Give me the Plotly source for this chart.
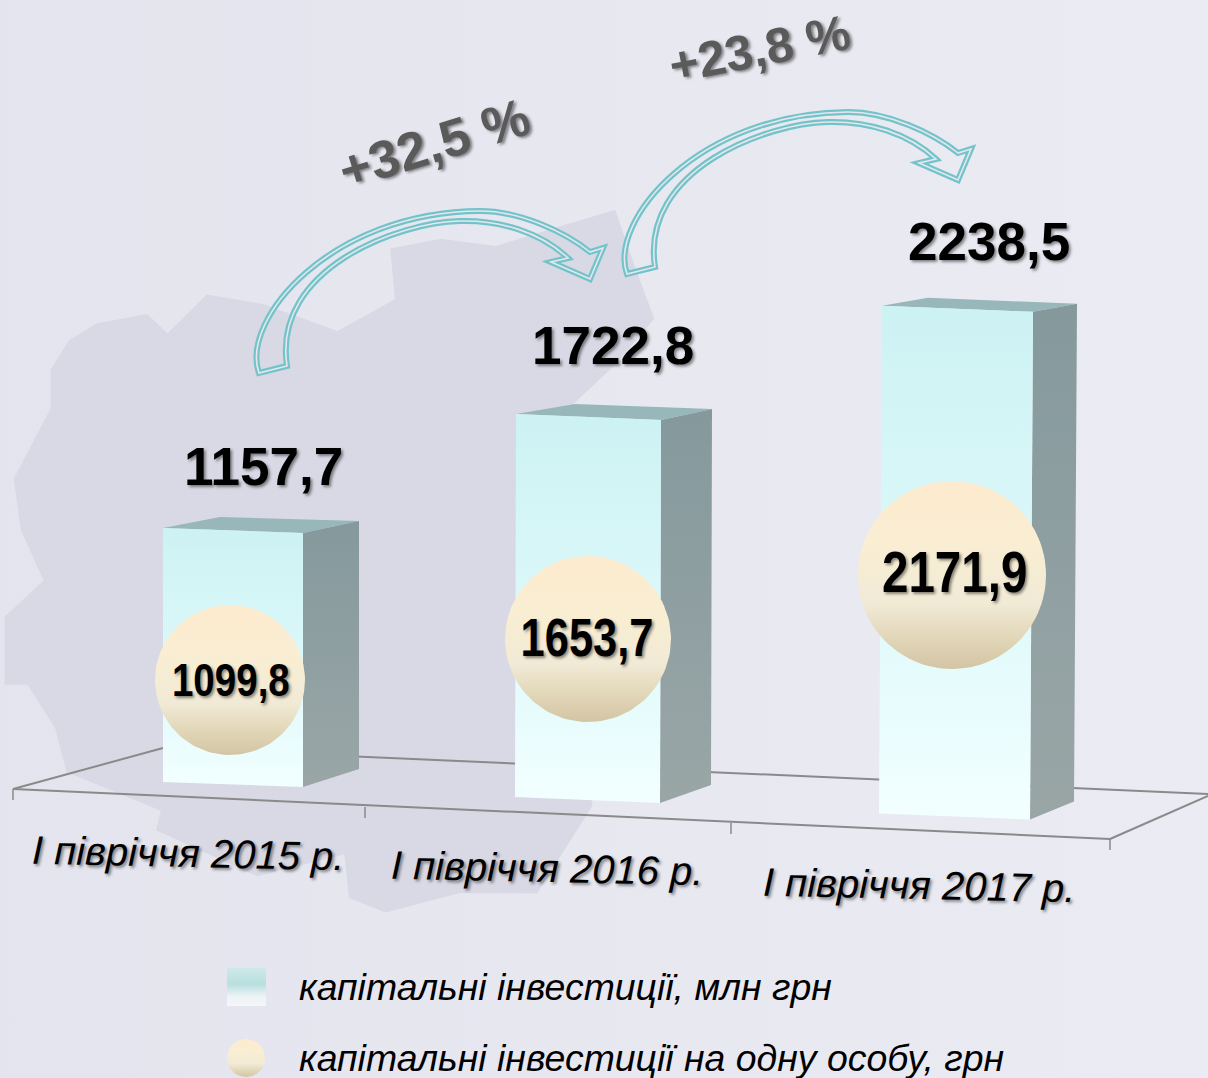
import math
import plotly.graph_objects as go

# ---------- data ----------
categories = ["І півріччя 2015 р.", "І півріччя 2016 р.", "І півріччя 2017 р."]
investments = [1157.7, 1722.8, 2238.5]
per_person = [1099.8, 1653.7, 2171.9]
growth_labels = ["+32,5 %", "+23,8 %"]
legend_labels = ["капітальні інвестиції, млн грн", "капітальні інвестиції на одну особу, грн"]

# ---------- perspective layout (page-pixel axes) ----------
W, H = 1208, 1078
bar_left = [163, 516, 882]
bar_width = [140, 145, 151]
bar_base = [782, 797, 813.5]
px_per_unit = [0.2194, 0.2223, 0.2268]
side_dx = [56, 51, 44]
side_dy = [-12, -11, -8]
back_dx = [57, 59, 46]
back_dy = [-11, -10, -8]
foot_drop = [5, 6, 6]
lean = [0, -1, -3]
circle_cx = [230, 588, 952]
circle_cy = [680, 639, 575]
circle_r = [75, 83, 94]


def flip(scale):
    # the y axis is reversed, so gradients are listed top-to-bottom and flipped here
    return [[round(1 - p, 4), c] for p, c in reversed(scale)]


FRONT = flip([[0, "#cdf2f3"], [0.5, "#dcf8fa"], [1, "#f2ffff"]])
SIDE = flip([[0, "#85999d"], [1, "#9aa6a6"]])
BALL = flip([[0, "#fdebcf"], [0.35, "#f9eed3"], [0.65, "#f1ead6"], [0.82, "#e3d8ba"], [1, "#d3c5a4"]])
SWATCH = flip([[0, "#cfe9e9"], [0.42, "#b8dfdf"], [0.75, "#edf3f5"], [1, "#f5f6f8"]])
TEAL = "#72c4c8"
FLOOR = "#8a8a8a"
FONT = "Liberation Sans"

fig = go.Figure()


def poly(xs, ys, color=None, grad=None, name="", gtype="vertical"):
    kw = dict(x=list(xs) + [xs[0]], y=list(ys) + [ys[0]], mode="lines", fill="toself",
              line=dict(width=0), hoverinfo="skip", showlegend=False, name=name)
    if grad:
        kw["fillgradient"] = dict(type=gtype, colorscale=grad)
    else:
        kw["fillcolor"] = color
    fig.add_trace(go.Scatter(**kw))


def seg(xs, ys, w=2):
    fig.add_trace(go.Scatter(x=xs, y=ys, mode="lines", line=dict(color=FLOOR, width=w),
                             hoverinfo="skip", showlegend=False))


def circle(cx, cy, r, grad, name):
    n = 120
    xs = [cx + r * math.cos(2 * math.pi * i / n) for i in range(n)]
    ys = [cy + r * math.sin(2 * math.pi * i / n) for i in range(n)]
    poly(xs, ys, grad=grad, name=name)


# background
poly([0, W, W, 0], [0, 0, H, H], grad=[[0, "#e4e4ee"], [1, "#ebebf3"]], gtype="horizontal", name="bg")
gear_zoom = [(210, 255), (320, 235), (365, 275), (450, 195), (575, 215), (735, 270), (860, 205),
             (850, 100), (960, 80), (1080, 95), (1200, 60), (1340, 20), (1380, 130), (1425, 245),
             (1340, 340), (1250, 420), (1290, 1250), (1170, 1430), (1000, 1430), (840, 1470),
             (760, 1440), (750, 1350), (560, 1395), (340, 1300), (350, 1260), (145, 1180),
             (120, 1090), (60, 1000), (10, 1000), (10, 860), (95, 785), (45, 680), (30, 575),
             (110, 430), (110, 350), (150, 290)]
poly([p[0] / 2.178 for p in gear_zoom], [200 + p[1] / 2.063 for p in gear_zoom], color="#d9d9e6", name="gear")

# floor
seg([13, 163], [789, 748])
seg([163, 1208], [748, 794])
seg([13, 1110], [789, 839])
seg([1110, 1208], [839, 796])
for tx, ty0 in zip([13, 365, 731, 1110], [789, 807, 823, 839]):
    seg([tx, tx], [ty0, ty0 + 11], 1.5)

# bars
for i, v in enumerate(investments):
    L, w, b = bar_left[i], bar_width[i], bar_base[i]
    top = b - v * px_per_unit[i]
    R = L + w
    d = foot_drop[i]
    ln = lean[i]
    poly([L, L + back_dx[i], R + side_dx[i], R], [top, top + back_dy[i], top + d + side_dy[i], top + d],
         color="#98b7ba", name="top")
    poly([R, R + side_dx[i], R + side_dx[i] + ln, R + ln],
         [top + d, top + d + side_dy[i], b + d - 18, b + d], grad=SIDE, name="side")
    poly([L, R, R + ln, L + ln], [top, top + d, b + d, b], grad=FRONT, name=categories[i])

# circles
for i, v in enumerate(per_person):
    circle(circle_cx[i], circle_cy[i], circle_r[i], BALL, categories[i])

# legend marks
poly([227, 266, 266, 227], [968, 968, 1006, 1006], grad=SWATCH, name=legend_labels[0])
circle(246, 1058, 19, BALL, legend_labels[1])


# arrows: one curved outline, placed twice
def arrow_path(dx, dy):
    pts = [(259, 373), (240, 320), (330, 212), (480, 211), (520, 211), (565, 232), (590, 252),
           (603, 248), (590, 279), (551, 262), (568, 258),
           (540, 232), (500, 220), (460, 221), (400, 222), (272, 268), (287, 366)]
    q = [f"{x + dx} {y + dy}" for x, y in pts]
    return (f"M {q[0]} C {q[1]} {q[2]} {q[3]} C {q[4]} {q[5]} {q[6]} L {q[7]} L {q[8]} L {q[9]} L {q[10]} "
            f"C {q[11]} {q[12]} {q[13]} C {q[14]} {q[15]} {q[16]} Z")


shapes = []
for p in (arrow_path(0, 0), arrow_path(368, -99)):
    shapes.append(dict(type="path", path=p, xref="x", yref="y", layer="above",
                       line=dict(color=TEAL, width=6), fillcolor="rgba(0,0,0,0)"))
    shapes.append(dict(type="path", path=p, xref="x", yref="y", layer="above",
                       line=dict(color="#e6e6f0", width=1.6), fillcolor="rgba(0,0,0,0)"))


# text
def label(x, y, text, size, color="#000000", bold=False, italic=False, angle=0,
          anchor="center", shadow="2px 2px 3px rgba(0,0,0,0.45)"):
    t = f"<b>{text}</b>" if bold else text
    t = f"<i>{t}</i>" if italic else t
    return dict(x=x, y=y, xref="x", yref="y", text=t, showarrow=False, textangle=angle,
                xanchor=anchor, yanchor="middle",
                font=dict(family=FONT, size=size, color=color, shadow=shadow))


fmt = lambda v: f"{v:.1f}".replace(".", ",")
ann = []
for x, y, v in zip([263, 613, 989], [466, 345, 241], investments):
    ann.append(label(x, y, fmt(v), 53, bold=True))
label_dx = [0.5, -1.5, 2.5]
label_dy = [-1, -2, -4]
for i, s in enumerate([47, 53, 58]):
    ann.append(label(circle_cx[i] + label_dx[i], circle_cy[i] + label_dy[i], fmt(per_person[i]), s, bold=True))
for x, y, c in zip([188, 547, 919], [853, 868, 885], categories):
    ann.append(label(x, y, c, 40, italic=True, angle=1.2))
ann.append(label(434, 143, growth_labels[0], 53, color="#5a5a5a", bold=True, angle=-17))
ann.append(label(759, 48, growth_labels[1], 49.5, color="#5a5a5a", bold=True, angle=-11))
ann.append(label(297, 987, legend_labels[0], 37.4, italic=True, anchor="left", shadow="none"))
ann.append(label(297, 1058, legend_labels[1], 37.4, italic=True, anchor="left", shadow="none"))

fig.update_layout(
    width=W, height=H, margin=dict(l=0, r=0, t=0, b=0),
    paper_bgcolor="#e7e7f1", plot_bgcolor="rgba(0,0,0,0)", showlegend=False,
    xaxis=dict(range=[0, W], visible=False, fixedrange=True),
    yaxis=dict(range=[H, 0], visible=False, fixedrange=True),
    shapes=shapes, annotations=ann,
)
# the per-person labels are horizontally condensed in the reference (annotations 3, 4, 5)
css = ",".join(f'.annotation[data-index="{i}"] text' for i in (3, 4, 5))
post = ("document.body.style.margin='0';document.body.style.overflow='hidden';"
        "var st=document.createElement('style');st.textContent='" + css +
        "{transform-box:fill-box;transform-origin:center;transform:scaleX(0.82);}';"
        "document.head.appendChild(st);")
fig.write_html("out.html", config=dict(displayModeBar=False), post_script=post)
